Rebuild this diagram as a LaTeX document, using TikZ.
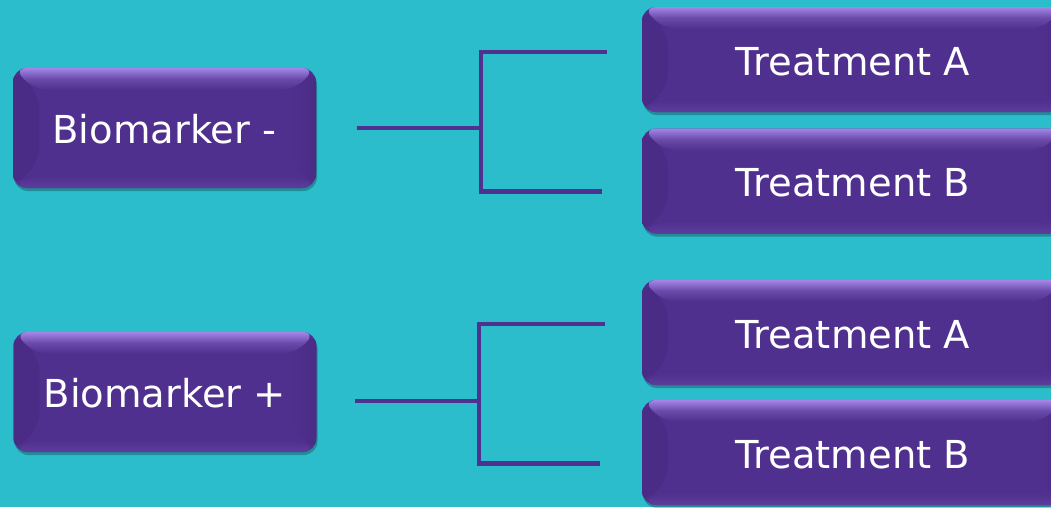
\documentclass[tikz,border=0pt]{standalone}
\usepackage{fontspec}
\setmainfont{DejaVu Sans}
\usetikzlibrary{calc,shadows}
\definecolor{bg}{HTML}{2BBDCB}
\definecolor{boxc}{HTML}{50308E}
\definecolor{boxlight}{HTML}{A386E8}
\definecolor{boxdark}{HTML}{4A2C86}
\definecolor{linec}{HTML}{4F3190}
\tikzset{
  bevbox/.style={rounded corners=14pt, fill=boxc, text=white,
    font=\fontsize{38.5}{42}\selectfont, inner sep=0pt, text height=31pt, text depth=0pt,
    drop shadow={shadow xshift=1pt, shadow yshift=-3pt, fill=black, opacity=0.25},
    path picture={
      \shade[left color=boxdark, right color=boxc]
        (path picture bounding box.north west) -- ($(path picture bounding box.north west)+(26pt,-26pt)$)
        -- ($(path picture bounding box.south west)+(26pt,26pt)$) -- (path picture bounding box.south west) -- cycle;
      \shade[right color=boxdark, left color=boxc]
        (path picture bounding box.north east) -- ($(path picture bounding box.north east)+(-26pt,-26pt)$)
        -- ($(path picture bounding box.south east)+(-26pt,26pt)$) -- (path picture bounding box.south east) -- cycle;
      \shade[top color=boxlight, bottom color=boxc, middle color=boxc!70!boxlight]
        (path picture bounding box.north west) -- (path picture bounding box.north east)
        -- ($(path picture bounding box.north east)+(-22pt,-22pt)$) -- ($(path picture bounding box.north west)+(22pt,-22pt)$) -- cycle;
      \shade[bottom color=boxc!85!boxlight, top color=boxc]
        (path picture bounding box.south west) -- (path picture bounding box.south east)
        -- ($(path picture bounding box.south east)+(-12pt,12pt)$) -- ($(path picture bounding box.south west)+(12pt,12pt)$) -- cycle;
    }},
  bmbox/.style={bevbox, minimum width=303pt, minimum height=120pt},
  trbox/.style={bevbox, minimum width=422pt, minimum height=105pt},
  conn/.style={draw=linec, line width=4.5pt}
}
\begin{document}
\begin{tikzpicture}[x=1pt,y=-1pt]
\useasboundingbox (0,0) rectangle (1051,507);
\fill[bg] (0,0) rectangle (1051,507);
\clip (0,0) rectangle (1051,507);

\node[bmbox] (bm1) at (164.5,128) {Biomarker -};
\node[bmbox] (bm2) at (165,392) {Biomarker +};
\node[trbox] (ta1) at (853,59.5) {Treatment A};
\node[trbox] (tb1) at (853,181) {Treatment B};
\node[trbox] (ta2) at (853,332.5) {Treatment A};
\node[trbox] (tb2) at (853,452.5) {Treatment B};

% top bracket
\coordinate (s1) at (357,128);
\coordinate (j1) at (481,128);
\coordinate (u1) at (607,52);
\coordinate (d1) at (602,191.5);
\draw[conn] (s1) -- (j1);
\draw[conn] (u1) -| (d1 -| j1) -- (d1);

% bottom bracket
\coordinate (s2) at (355,401);
\coordinate (j2) at (479,401);
\coordinate (u2) at (605,324);
\coordinate (d2) at (600,463.5);
\draw[conn] (s2) -- (j2);
\draw[conn] (u2) -| (d2 -| j2) -- (d2);
\end{tikzpicture}
\end{document}
